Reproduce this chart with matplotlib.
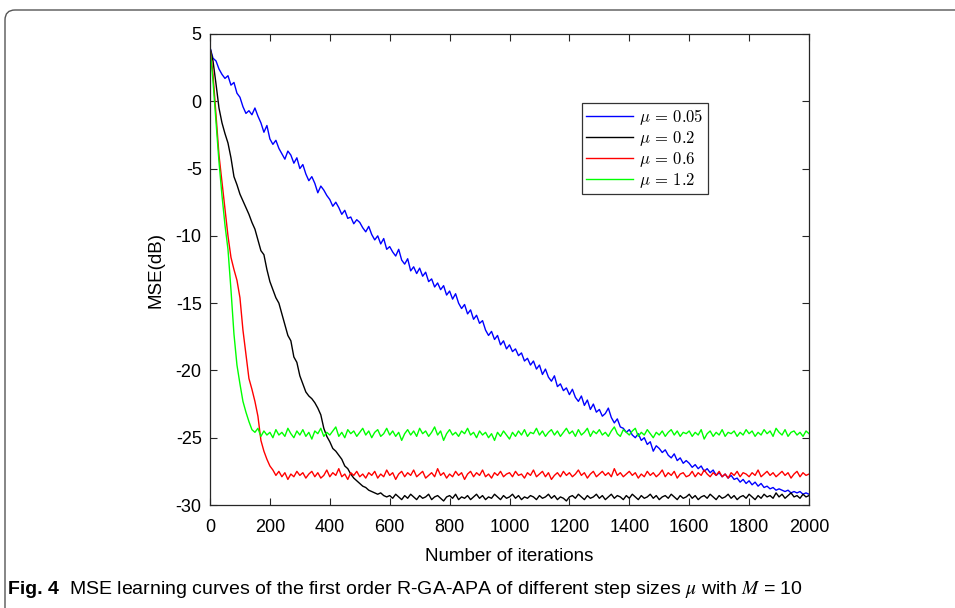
import numpy as np
import matplotlib
matplotlib.use("Agg")
import matplotlib.pyplot as plt
from matplotlib.patches import FancyBboxPatch
from matplotlib.transforms import IdentityTransform

plt.rcParams['axes.unicode_minus'] = False

# iterations 0..2000 every 10 samples
iters = np.arange(0, 2001, 10)

mse_005 = [
    4.0, 3.2, 3.0, 2.4, 2.0, 1.7, 1.9, 1.2, 1.4, 0.6,
    0.3, -0.4, -0.9, -0.7, -1.0, -0.5, -1.1, -1.6, -2.3, -1.8,
    -2.8, -3.2, -2.9, -3.5, -3.9, -4.3, -3.7, -4.0, -4.6, -4.2,
    -5.0, -4.7, -5.4, -5.9, -5.6, -6.1, -6.8, -6.3, -6.6, -7.0,
    -7.3, -7.8, -7.5, -7.9, -8.4, -8.1, -8.7, -8.6, -9.1, -8.8,
    -9.0, -9.4, -9.7, -9.3, -9.9, -10.3, -10.0, -10.6, -10.2, -11.0,
    -10.8, -11.2, -11.5, -11.0, -11.8, -12.1, -11.7, -12.6, -12.3, -12.8,
    -12.4, -13.0, -12.7, -13.4, -13.2, -13.8, -13.5, -14.0, -13.7, -14.4,
    -14.1, -14.7, -14.3, -15.0, -15.4, -15.1, -15.8, -15.5, -16.2, -15.9,
    -16.5, -16.3, -17.0, -17.4, -17.1, -17.7, -17.4, -18.1, -17.8, -18.4,
    -18.1, -18.6, -18.4, -18.9, -18.7, -19.3, -19.1, -19.6, -19.3, -19.9,
    -19.6, -20.3, -19.9, -20.5, -20.8, -20.4, -21.2, -21.0, -21.5, -21.3,
    -21.8, -21.4, -22.0, -22.3, -21.9, -22.6, -22.2, -22.9, -22.5, -23.1,
    -22.9, -23.4, -23.2, -22.8, -23.5, -23.9, -23.6, -24.2, -24.3, -24.6,
    -24.4, -24.8, -25.0, -24.7, -25.2, -25.0, -25.5, -25.3, -26.0, -25.6,
    -25.8, -26.1, -25.9, -26.3, -26.5, -26.2, -26.7, -26.5, -26.9, -26.7,
    -26.9, -27.2, -27.0, -27.3, -27.1, -27.5, -27.3, -27.6, -27.4, -27.8,
    -27.6, -27.9, -27.7, -28.0, -27.8, -28.1, -28.0, -28.3, -28.1, -28.4,
    -28.2, -28.5, -28.3, -28.6, -28.4, -28.7, -28.6, -28.8, -28.7, -28.9,
    -28.8, -28.9, -29.0, -28.9, -29.1, -29.0, -29.1, -29.0, -29.2, -29.1,
    -29.2]

mse_02 = [
    4.0, 3.0, 1.3, -0.5, -1.6, -2.4, -3.1, -4.2, -5.6, -6.2,
    -6.9, -7.4, -7.9, -8.4, -9.0, -9.5, -10.3, -11.1, -11.4, -12.5,
    -13.4, -14.0, -14.6, -15.0, -15.8, -16.6, -17.4, -17.8, -19.0, -19.4,
    -20.4, -21.0, -21.6, -21.9, -22.1, -22.4, -22.8, -23.3, -24.3, -24.9,
    -25.3, -25.8, -26.0, -26.3, -26.6, -27.1, -27.3, -27.7, -28.0, -28.2,
    -28.4, -28.6, -28.7, -28.9, -29.0, -29.1, -29.2, -29.1, -29.3, -29.4,
    -29.3, -29.5, -29.2, -29.4, -29.6, -29.3, -29.5, -29.2, -29.4, -29.6,
    -29.3, -29.5, -29.4, -29.2, -29.6, -29.4, -29.3, -29.5, -29.7, -29.4,
    -29.3, -29.5, -29.2, -29.6, -29.4, -29.5, -29.3, -29.6, -29.4, -29.2,
    -29.5, -29.3, -29.6, -29.4, -29.5, -29.2, -29.4, -29.6, -29.3, -29.5,
    -29.4, -29.2, -29.5, -29.3, -29.6, -29.4, -29.5, -29.3, -29.4, -29.6,
    -29.3, -29.5, -29.4, -29.2, -29.5, -29.3, -29.6, -29.4, -29.5, -29.7,
    -29.4, -29.3, -29.5, -29.2, -29.4, -29.6, -29.3, -29.5, -29.4, -29.2,
    -29.5, -29.3, -29.6, -29.4, -29.2, -29.5, -29.3, -29.4, -29.6, -29.3,
    -29.5, -29.2, -29.4, -29.6, -29.3, -29.5, -29.4, -29.2, -29.5, -29.3,
    -29.6, -29.4, -29.3, -29.5, -29.2, -29.4, -29.6, -29.3, -29.5, -29.4,
    -29.2, -29.5, -29.3, -29.6, -29.4, -29.3, -29.5, -29.2, -29.4, -29.6,
    -29.3, -29.5, -29.4, -29.2, -29.5, -29.3, -29.6, -29.4, -29.3, -29.5,
    -29.2, -29.4, -29.6, -29.3, -29.5, -29.2, -29.4, -29.3, -29.5, -29.1,
    -29.4, -29.2, -29.5, -29.3, -29.1, -29.4, -29.3, -29.5, -29.2, -29.4,
    -29.3]

mse_06 = [
    4.0, 2.0, -1.0, -4.0, -6.0, -8.0, -10.0, -11.6, -12.5, -13.3,
    -14.6, -17.0, -18.8, -20.6, -21.4, -22.3, -23.4, -25.2, -26.0, -26.6,
    -27.1, -27.4, -27.8, -27.5, -27.9, -27.6, -28.1, -27.7, -27.9, -27.5,
    -27.8, -27.6, -28.0, -27.7, -27.5, -27.9, -27.6, -28.0, -27.8, -27.4,
    -27.9, -27.6, -27.8, -27.3, -27.9, -27.7, -28.1, -27.6, -27.8, -27.5,
    -27.9, -27.7, -28.0, -27.6, -27.8, -27.5, -28.0, -27.7, -27.9, -27.4,
    -27.8, -27.6, -28.1, -27.7, -27.5, -27.9, -27.6, -27.8, -27.4, -27.9,
    -27.7, -27.5, -28.0, -27.8, -27.6, -27.9, -27.3, -27.8, -27.6, -28.0,
    -27.7, -27.9, -27.5, -27.8, -27.6, -28.1, -27.7, -27.5, -27.9, -27.6,
    -27.8, -27.4, -27.9, -27.7, -28.0, -27.6, -27.8, -27.5, -27.9, -27.7,
    -27.6, -27.9, -27.5, -27.8, -27.7, -28.0, -27.6, -27.8, -27.4, -27.9,
    -27.7, -27.5, -27.9, -27.6, -28.1, -27.8, -27.6, -27.9, -27.5, -27.8,
    -27.6, -27.9, -27.7, -27.4, -27.8, -27.6, -28.0, -27.7, -27.5, -27.9,
    -27.7, -27.5, -27.8, -27.6, -27.9, -27.3, -27.8, -27.6, -27.9, -27.7,
    -27.5, -27.8, -27.6, -28.0, -27.7, -27.9, -27.5, -27.8, -27.6, -27.9,
    -27.7, -27.4, -27.9, -27.6, -27.8, -27.5, -28.0, -27.7, -27.6, -27.9,
    -27.8, -27.5, -27.9, -27.6, -27.8, -27.4, -27.7, -27.9, -27.6, -27.8,
    -27.5, -27.9, -27.7, -28.0, -27.6, -27.8, -27.5, -27.9, -27.6, -27.7,
    -27.9, -27.6, -27.8, -27.4, -27.9, -27.7, -27.5, -27.8, -27.6, -27.9,
    -27.7, -27.5, -27.8, -27.6, -28.0, -27.7, -27.5, -27.9, -27.6, -27.8,
    -27.7]

mse_12 = [
    4.0, 1.5, -1.5, -4.5, -7.0, -9.2, -11.0, -14.0, -17.3, -19.6,
    -21.0, -22.3, -23.1, -23.8, -24.4, -24.6, -24.3, -24.9, -24.5, -24.8,
    -24.6, -25.0, -24.4, -24.8, -24.6, -24.9, -24.3, -24.7, -25.0, -24.5,
    -24.8, -24.4, -24.9, -24.6, -25.1, -24.5, -24.7, -24.3, -24.9, -24.6,
    -24.8, -24.5, -24.2, -24.9, -24.6, -25.0, -24.4, -24.7, -24.5, -24.9,
    -24.6, -24.3, -24.8, -24.5, -25.0, -24.6, -24.4, -24.9, -24.7, -24.3,
    -24.8, -24.5, -24.9, -24.6, -25.2, -24.7, -24.4, -24.8, -24.5, -24.9,
    -24.3, -24.7, -24.5, -24.9, -24.6, -24.2, -24.8, -24.5, -25.2, -24.7,
    -24.4, -24.8, -24.6, -24.9, -24.5, -24.7, -24.3, -24.8, -24.6, -25.0,
    -24.5, -24.8, -24.6, -25.0, -24.7, -25.2, -24.6, -24.9, -24.5, -24.8,
    -25.1, -24.6, -24.9, -24.5, -24.8, -24.4, -24.9, -24.6, -24.7, -24.3,
    -24.8, -24.5, -24.9, -24.6, -24.4, -24.8, -24.5, -24.9, -24.6, -24.3,
    -24.7, -24.5, -24.9, -24.4, -24.8, -24.6, -24.3, -24.9, -24.5, -24.7,
    -24.4, -24.8, -24.6, -24.9, -24.5, -24.2, -24.7, -24.9, -24.4, -24.6,
    -24.8, -24.5, -24.3, -24.9, -24.6, -24.8, -24.4, -24.7, -25.0, -24.6,
    -24.8, -24.5, -24.9, -24.6, -24.4, -24.8, -24.5, -24.9, -24.6, -24.7,
    -24.5, -24.9, -24.6, -24.8, -24.4, -25.1, -24.7, -24.5, -24.9, -24.6,
    -24.8, -24.4, -24.9, -24.6, -24.7, -24.5, -24.9, -24.6, -24.8, -24.4,
    -24.7, -24.5, -24.9, -24.6, -24.8, -24.4, -24.7, -24.5, -24.9, -24.3,
    -24.6, -24.8, -24.4, -24.9, -24.6, -24.5, -24.8, -24.6, -24.9, -24.5,
    -24.7]

series = [
    (mse_005, '#0000ff', r'$\mu \,=\, 0.05$'),
    (mse_02, '#000000', r'$\mu \,=\, 0.2$'),
    (mse_06, '#ff0000', r'$\mu \,=\, 0.6$'),
    (mse_12, '#00ff00', r'$\mu \,=\, 1.2$'),
]

sans = ['Liberation Sans', 'DejaVu Sans']

fig = plt.figure(figsize=(9.55, 6.08), dpi=100)
ax = fig.add_axes([210 / 955, 103 / 608, 599 / 955, 471 / 608])

for vals, col, lab in series:
    ax.plot(iters, vals, color=col, lw=1.0, label=lab)

ax.set_xlim(0, 2000)
ax.set_ylim(-30, 5)
ax.set_xticks(np.arange(0, 2001, 200))
ax.set_yticks(np.arange(-30, 6, 5))
ax.tick_params(direction='in', top=True, right=True, length=5, width=0.8,
               labelsize=13, colors='#262626', labelcolor='black')
ax.tick_params(axis='x', pad=10)
ax.tick_params(axis='y', pad=6)
for lab in ax.get_xticklabels() + ax.get_yticklabels():
    lab.set_family(sans)
for sp in ax.spines.values():
    sp.set_color('#262626')
    sp.set_linewidth(0.9)

ax.set_xlabel('Number of iterations', fontsize=13.5, family=sans, labelpad=9)
ax.set_ylabel('MSE(dB)', fontsize=13.5, family=sans, labelpad=8)

leg = ax.legend(loc='upper left', bbox_to_anchor=(0.621, 0.854),
                fancybox=False, framealpha=1, edgecolor='#333333',
                prop={'size': 12, 'math_fontfamily': 'cm'},
                handlelength=2.8, handletextpad=0.4, borderpad=0.25,
                labelspacing=0.12, borderaxespad=0)
leg.get_frame().set_linewidth(0.9)

# outer frame of the figure panel
frame = FancyBboxPatch((5, -20), 1000, 608 - 10 + 20,
                       boxstyle='round,pad=0,rounding_size=10',
                       transform=IdentityTransform(), fill=False,
                       edgecolor='#555555', linewidth=1.0)
fig.patches.append(frame)

t1 = fig.text(8 / 955, 1 - 590 / 608, 'Fig. 4', fontsize=14,
              fontweight='bold', family=sans, va='center')
ax.annotate(r'MSE learning curves of the first order R-GA-APA of different step sizes $\mu$ with $M$ = 10',
            xy=(1, 0.5), xycoords=t1, xytext=(7, 0), textcoords='offset points',
            va='center', fontsize=14, family=sans, math_fontfamily='stix',
            annotation_clip=False)

fig.savefig('out.png', dpi=100)
